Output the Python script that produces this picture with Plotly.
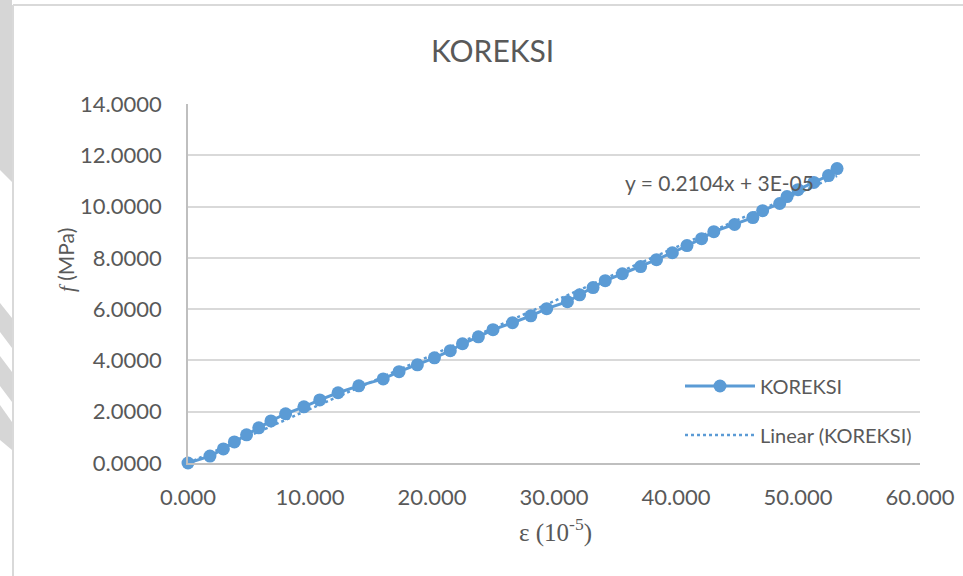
import plotly.graph_objects as go

# Strain readings (x 10^-5) and corrected stress (MPa)
strain = [0, 1.8, 2.9, 3.8, 4.8, 5.8, 6.8, 8.0, 9.5, 10.8, 12.3, 14.0, 16.0, 17.3,
          18.8, 20.2, 21.5, 22.5, 23.8, 25.0, 26.6, 28.1, 29.4, 31.1, 32.1, 33.2,
          34.2, 35.6, 37.1, 38.4, 39.7, 40.9, 42.1, 43.1, 44.8, 46.3, 47.1, 48.5,
          49.1, 50.0, 51.3, 52.5, 53.2]
stress = [0, 0.27, 0.55, 0.82, 1.10, 1.37, 1.64, 1.92, 2.19, 2.46, 2.74, 3.01,
          3.28, 3.56, 3.83, 4.10, 4.38, 4.65, 4.92, 5.20, 5.47, 5.74, 6.02, 6.29,
          6.56, 6.84, 7.11, 7.38, 7.66, 7.93, 8.20, 8.48, 8.75, 9.02, 9.30, 9.57,
          9.84, 10.12, 10.39, 10.66, 10.94, 11.21, 11.48]

# Linear trendline coefficients
slope = 0.2104
intercept = 3e-05
trend_x = [min(strain), max(strain)]
trend_y = [slope * v + intercept for v in trend_x]

x_ticks = [0, 10, 20, 30, 40, 50, 60]
x_tick_text = ["0.000", "10.000", "20.000", "30.000", "40.000", "50.000", "60.000"]
y_ticks = [0, 2, 4, 6, 8, 10, 12, 14]
y_tick_text = ["0.0000", "2.0000", "4.0000", "6.0000", "8.0000", "10.0000", "12.0000", "14.0000"]

W, H = 963, 576
L, R, T, B = 188, 920, 104, 463
BLUE = "#5B9BD5"
TEXT = "#595959"
FONT = "Lato"


def px(xp):
    return (xp - L) / (R - L)


def py(yp):
    return (B - yp) / (B - T)


fig = go.Figure()

fig.add_trace(go.Scatter(
    x=trend_x, y=trend_y, mode="lines", name="Linear (KOREKSI)",
    line=dict(color=BLUE, width=2.5, dash="dot"),
    legend="legend2", cliponaxis=False,
))
fig.add_trace(go.Scatter(
    x=strain, y=stress, mode="lines+markers", name="KOREKSI",
    line=dict(color=BLUE, width=3),
    marker=dict(color=BLUE, size=13),
    legend="legend", cliponaxis=False,
))

# Page decoration: frame lines and grey stripes at the left edge
shapes = []
frame = "#d9d9d9"
shapes.append(dict(type="line", xref="paper", yref="paper",
                   x0=px(13), x1=px(963), y0=py(5), y1=py(5),
                   line=dict(color=frame, width=2)))
shapes.append(dict(type="line", xref="paper", yref="paper",
                   x0=px(13), x1=px(13), y0=py(5), y1=py(576),
                   line=dict(color=frame, width=2)))
stripes = [
    [(0, 0), (12, 0), (12, 182), (0, 170)],
    [(0, 303), (12, 318), (12, 348), (0, 332)],
    [(0, 356), (12, 372), (12, 402), (0, 386)],
    [(0, 405), (12, 422), (12, 450), (0, 440)],
]
for poly in stripes:
    path = "M " + " L ".join(f"{px(a):.5f},{py(b):.5f}" for a, b in poly) + " Z"
    shapes.append(dict(type="path", xref="paper", yref="paper", path=path,
                       fillcolor="#d6d6d6", line=dict(width=0), layer="below"))

annotations = [
    dict(text="KOREKSI", x=px(492), y=py(50), xref="paper", yref="paper",
         showarrow=False, font=dict(family=FONT, size=30, color=TEXT),
         xanchor="center", yanchor="middle"),
    dict(text=f"y = {slope}x + 3E-05", x=px(719), y=py(182), xref="paper", yref="paper",
         showarrow=False, font=dict(family=FONT, size=21, color=TEXT),
         xanchor="center", yanchor="middle"),
    dict(text="ε (10<sup>-5</sup>)", x=px(555), y=py(530), xref="paper", yref="paper",
         showarrow=False, font=dict(family="Liberation Serif", size=25, color=TEXT),
         xanchor="center", yanchor="middle"),
    dict(text="<i><span style='font-family:Liberation Serif'>f</span></i> (MPa)",
         x=px(66), y=py(260), xref="paper", yref="paper", textangle=-90,
         showarrow=False, font=dict(family=FONT, size=21, color=TEXT),
         xanchor="center", yanchor="middle"),
]

legend_common = dict(
    bgcolor="rgba(0,0,0,0)", borderwidth=0, itemwidth=70,
    font=dict(family=FONT, size=20, color=TEXT),
    xanchor="left", yanchor="middle",
)

fig.update_layout(
    width=W, height=H,
    margin=dict(l=L, r=W - R, t=T, b=H - B, autoexpand=False),
    paper_bgcolor="white", plot_bgcolor="white",
    showlegend=True,
    legend=dict(x=px(680), y=py(386), **legend_common),
    legend2=dict(x=px(680), y=py(435), **legend_common),
    xaxis=dict(range=[0, 60], tickvals=x_ticks, ticktext=x_tick_text,
               showgrid=False, zeroline=False, showline=True, linecolor="#bfbfbf",
               linewidth=1.5, ticks="", ticklabelstandoff=14, automargin=False,
               tickfont=dict(family=FONT, size=22, color=TEXT)),
    yaxis=dict(range=[0, 14], tickvals=y_ticks, ticktext=y_tick_text,
               showgrid=True, gridcolor="#d9d9d9", gridwidth=1.5, zeroline=False,
               showline=True, linecolor="#bfbfbf", linewidth=1.5, ticks="",
               ticklabelstandoff=20, automargin=False,
               tickfont=dict(family=FONT, size=22, color=TEXT)),
    shapes=shapes,
    annotations=annotations,
)

fig.write_html("out.html")
